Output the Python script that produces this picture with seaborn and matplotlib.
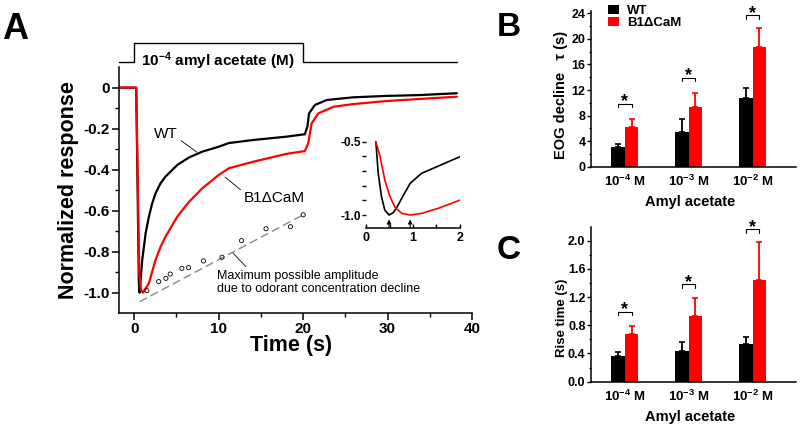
import numpy as np
import pandas as pd
import matplotlib
matplotlib.use('Agg')
import matplotlib.pyplot as plt
import matplotlib.transforms as mtransforms
import seaborn as sns

sns.set_style('ticks')
plt.rcParams.update({
    'font.family': ['Liberation Sans', 'DejaVu Sans'],
    'mathtext.fontset': 'custom',
    'mathtext.rm': 'Liberation Sans',
    'mathtext.bf': 'Liberation Sans:bold',
    'mathtext.it': 'Liberation Sans:italic',
    'axes.edgecolor': 'black',
    'axes.linewidth': 1.1,
    'xtick.color': 'black',
    'ytick.color': 'black',
    'text.color': 'black',
    'axes.labelcolor': 'black',
})

# ---- Panel A: normalized EOG traces ----
wt_time = [-1.8, 0.24, 0.55, 0.64, 0.75, 0.95, 1.15, 1.35, 1.74, 2.13, 2.53, 3.12, 3.7,
           5.1, 6.5, 8.05, 10.0, 11.2, 14.1, 18.0, 20.2, 20.5, 20.7, 21.4, 22.8,
           25.9, 29.9, 33.8, 38.2]
wt_resp = [0.0, 0.0, -0.95, -1.0, -0.94, -0.84, -0.776, -0.71, -0.629, -0.564, -0.515, -0.466, -0.434,
           -0.377, -0.34, -0.312, -0.288, -0.27, -0.255, -0.239, -0.227, -0.19, -0.125, -0.084, -0.06,
           -0.047, -0.04, -0.036, -0.027]
mut_time = [-1.8, 0.24, 0.6, 0.8, 1.03, 1.35, 1.74, 2.13, 2.53, 3.12, 3.7, 5.1, 6.5, 8.05,
            10.0, 11.2, 14.1, 18.0, 20.2, 20.6, 21.0, 21.8, 23.6, 25.9, 29.9, 33.8, 38.2]
mut_resp = [0.0, 0.0, -0.9, -0.985, -1.0, -0.979, -0.954, -0.897, -0.84, -0.776, -0.727, -0.629, -0.556, -0.491,
            -0.426, -0.393, -0.361, -0.323, -0.309, -0.271, -0.174, -0.125, -0.093, -0.08, -0.065, -0.055, -0.044]

# inset: first 2 s
inset_wt_time = [0.21, 0.26, 0.33, 0.40, 0.49, 0.58, 0.67, 0.76, 0.94, 1.18, 1.54, 2.0]
inset_wt_resp = [-0.5, -0.716, -0.875, -0.966, -1.0, -0.984, -0.94, -0.886, -0.784, -0.716, -0.666, -0.602]
inset_mut_time = [0.21, 0.30, 0.40, 0.51, 0.62, 0.76, 0.94, 1.18, 1.54, 2.0]
inset_mut_resp = [-0.5, -0.602, -0.761, -0.875, -0.948, -0.989, -1.0, -0.989, -0.954, -0.898]

# maximum possible amplitude (odorant concentration decline)
max_time = [1.5, 2.9, 3.75, 4.26, 5.64, 6.43, 8.2, 10.4, 12.7, 15.6, 18.5, 20.0]
max_resp = [-0.99, -0.946, -0.93, -0.909, -0.881, -0.878, -0.845, -0.827, -0.746, -0.688, -0.678, -0.62]
fit_time = [0.63, 20.0]
fit_resp = [-1.044, -0.62]

stim_on, stim_off = 0.0, 20.0

# ---- Panels B, C ----
conc_labels = [r'$\mathbf{10^{-4}}$ M', r'$\mathbf{10^{-3}}$ M', r'$\mathbf{10^{-2}}$ M']
genotypes = ['WT', 'B1\u0394CaM']
tau_wt = [3.13, 5.37, 10.7]
tau_wt_err = [0.42, 2.04, 1.57]
tau_mut = [6.26, 9.39, 18.8]
tau_mut_err = [1.15, 2.09, 2.86]
tau_sig = [9.8, 13.9, 23.7]
rise_wt = [0.37, 0.44, 0.53]
rise_wt_err = [0.057, 0.123, 0.104]
rise_mut = [0.68, 0.93, 1.44]
rise_mut_err = [0.109, 0.256, 0.543]
rise_sig = [0.99, 1.38, 2.16]

colors = ['#000000', '#ff0000']

fig = plt.figure(figsize=(8, 4.28), dpi=100)

# ================= Panel A =================
ax = fig.add_axes([0.14875, 0.2682, 0.4414, 0.5748])
sns.lineplot(x=wt_time, y=wt_resp, color='k', lw=1.6, estimator=None, sort=False, ax=ax)
sns.lineplot(x=mut_time, y=mut_resp, color='#ff0000', lw=1.6, estimator=None, sort=False, ax=ax)
ax.plot(fit_time, fit_resp, color='#888888', lw=1.0, ls=(0, (6, 3)))
sns.scatterplot(x=max_time, y=max_resp, ax=ax, s=9, facecolor='none',
                edgecolor='k', linewidth=0.6, zorder=5)
ax.set_xlim(-1.8, 40)
ax.set_ylim(-1.1, 0.1)
ax.set_xticks([0, 10, 20, 30, 40])
ax.set_xticks([5, 15, 25, 35], minor=True)
ax.set_yticks([0, -0.2, -0.4, -0.6, -0.8, -1.0])
ax.set_yticklabels(['0', '-0.2', '-0.4', '-0.6', '-0.8', '-1.0'])
ax.set_yticks([-0.1, -0.3, -0.5, -0.7, -0.9], minor=True)
ax.tick_params(which='major', length=5, width=1.1, labelsize=11, pad=1.5)
ax.tick_params(which='minor', length=3, width=1.0)
for lab in ax.get_xticklabels() + ax.get_yticklabels():
    lab.set_fontweight('bold')
sns.despine(ax=ax)
ax.set_xlabel('Time (s)', fontsize=15.5, fontweight='bold')
ax.set_ylabel('Normalized response', fontsize=15.5, fontweight='bold')
ax.xaxis.set_label_coords(0.487, -0.09)
ax.yaxis.set_label_coords(-0.112, 0.5)

# stimulus trace above the axes
trans = mtransforms.blended_transform_factory(ax.transData, ax.transAxes)
stim_low, stim_high = 1.021, 1.097
ax.plot([-1.8, stim_on, stim_on, stim_off, stim_off, 38.2],
        [stim_low, stim_low, stim_high, stim_high, stim_low, stim_low],
        color='k', lw=1.0, transform=trans, clip_on=False)
ax.text(stim_on + 0.8, 1.005, r'$\mathbf{10^{-4}}$ amyl acetate (M)', transform=trans,
        fontsize=11, fontweight='bold', ha='left', va='baseline')

ax.annotate('WT', xy=(7.4, -0.314), xytext=(3.75, -0.226), fontsize=11,
            ha='center', va='center',
            arrowprops=dict(arrowstyle='-', lw=0.6, color='k', relpos=(1.0, 0.2),
                            shrinkA=0, shrinkB=0))
ax.annotate('B1\u0394CaM', xy=(10.75, -0.436), xytext=(16.6, -0.538), fontsize=11,
            ha='center', va='center',
            arrowprops=dict(arrowstyle='-', lw=0.6, color='k', relpos=(0.0, 0.9),
                            shrinkA=0, shrinkB=0))
ax.annotate('Maximum possible amplitude\ndue to odorant concentration decline',
            xy=(11.7, -0.807), xytext=(9.75, -0.889), fontsize=9, ha='left', va='top',
            linespacing=1.15,
            arrowprops=dict(arrowstyle='-', lw=0.6, color='k', relpos=(0.16, 1.0),
                            shrinkA=0, shrinkB=0))

# inset
axi = fig.add_axes([0.4575, 0.4668, 0.1175, 0.2089])
axi.patch.set_alpha(0)
sns.lineplot(x=inset_wt_time, y=inset_wt_resp, color='k', lw=1.2, estimator=None, sort=False, ax=axi)
sns.lineplot(x=inset_mut_time, y=inset_mut_resp, color='#ff0000', lw=1.2, estimator=None, sort=False, ax=axi)
axi.set_xlim(0, 2)
axi.set_ylim(-1.09, -0.48)
for tt, rr in [(inset_wt_time, inset_wt_resp), (inset_mut_time, inset_mut_resp)]:
    tmin = tt[int(np.argmin(rr))]
    axi.annotate('', xy=(tmin, -1.03), xytext=(tmin, -1.085),
                 arrowprops=dict(arrowstyle='-|>', lw=0.8, color='k',
                                 mutation_scale=6, shrinkA=0, shrinkB=0))
for s in ['top', 'right', 'left']:
    axi.spines[s].set_visible(False)
axi.set_xticks([0, 1, 2])
axi.set_xticks([0.5, 1.5], minor=True)
axi.set_yticks([-1.0, -0.5])
axi.set_yticklabels(['-1.0', '-0.5'])
axi.set_yticks([-0.9, -0.8, -0.7, -0.6], minor=True)
axi.tick_params(axis='x', which='both', direction='in', length=3, width=1.0, labelsize=9, pad=3)
axi.tick_params(axis='y', which='both', direction='out', length=3, width=1.0, labelsize=8.5, pad=0.5)
for lab in axi.get_xticklabels() + axi.get_yticklabels():
    lab.set_fontweight('bold')


# ================= Panels B, C =================
def bar_panel(ax, wt, wt_err, mut, mut_err, sig, ylim, major, minor, ylabel, ylabel_size, ylabel_y, fmt):
    df = pd.DataFrame({'conc': conc_labels * 2,
                       'genotype': [genotypes[0]] * 3 + [genotypes[1]] * 3,
                       'value': wt + mut})
    sns.barplot(data=df, x='conc', y='value', hue='genotype', hue_order=genotypes,
                palette=colors, saturation=1, width=0.42, gap=0, errorbar=None,
                linewidth=0, legend=False, ax=ax)
    centers = []
    for cont, err, col in zip(ax.containers, [wt_err, mut_err], colors):
        xs = [p.get_x() + p.get_width() / 2 for p in cont]
        hs = [p.get_height() for p in cont]
        centers.append(xs)
        ax.errorbar(xs, hs, yerr=[np.zeros(len(err)), err], fmt='none', ecolor=col,
                    elinewidth=1.3, capsize=2.5, capthick=1.2)
    drop = 0.021 * ylim[1]
    for x0, x1, y in zip(centers[0], centers[1], sig):
        ax.plot([x0, x0, x1, x1], [y - drop, y, y, y - drop], color='k', lw=0.8, clip_on=False)
        ax.annotate('*', xy=((x0 + x1) / 2, y), xytext=(0, 1.5), textcoords='offset points',
                    ha='center', va='center', fontsize=13, fontweight='bold', annotation_clip=False)
    ax.set_xlim(-0.53, 2.68)
    ax.set_ylim(*ylim)
    ax.set_yticks(major)
    ax.set_yticklabels([fmt.format(v) for v in major])
    ax.set_yticks(minor, minor=True)
    ax.tick_params(axis='y', which='major', length=3, width=1.0, labelsize=9, pad=1)
    ax.tick_params(axis='y', which='minor', length=1.8, width=0.8)
    ax.tick_params(axis='x', length=0, labelsize=9.5, pad=5)
    for lab in ax.get_xticklabels() + ax.get_yticklabels():
        lab.set_fontweight('bold')
    sns.despine(ax=ax)
    ax.set_xlabel('Amyl acetate', fontsize=10.5, fontweight='bold')
    ax.set_ylabel(ylabel, fontsize=ylabel_size, fontweight='bold')
    ax.xaxis.set_label_coords(0.485, -0.182)
    ax.yaxis.set_label_coords(-0.112, ylabel_y)


axB = fig.add_axes([0.7388, 0.6105, 0.2563, 0.3643])
bar_panel(axB, tau_wt, tau_wt_err, tau_mut, tau_mut_err, tau_sig, (0, 24.4),
          [0, 4, 8, 12, 16, 20, 24], [2, 6, 10, 14, 18, 22],
          'EOG decline   \u03c4 (s)', 10.5, 0.46, '{:.0f}')
axB.legend(axB.containers, genotypes, loc='upper left', bbox_to_anchor=(0.081, 1.035),
           frameon=False, borderpad=0, borderaxespad=0, handlelength=0.85, handleheight=0.65,
           handletextpad=0.6, labelspacing=0.0, prop={'weight': 'bold', 'size': 9.5})

axC = fig.add_axes([0.7388, 0.1082, 0.2563, 0.3624])
bar_panel(axC, rise_wt, rise_wt_err, rise_mut, rise_mut_err, rise_sig, (0, 2.2),
          [0, 0.4, 0.8, 1.2, 1.6, 2.0], [0.2, 0.6, 1.0, 1.4, 1.8],
          'Rise time (s)', 9.5, 0.41, '{:.1f}')

fig.text(0.0025, 0.972, 'A', fontsize=26, fontweight='bold', va='top', ha='left')
fig.text(0.621, 0.972, 'B', fontsize=24, fontweight='bold', va='top', ha='left')
fig.text(0.621, 0.451, 'C', fontsize=24, fontweight='bold', va='top', ha='left')

fig.savefig('out.png', dpi=100)
